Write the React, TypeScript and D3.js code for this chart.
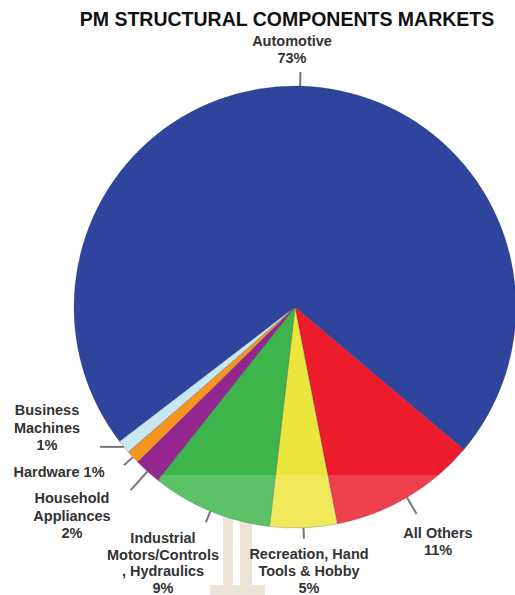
import React from "react";
import * as d3 from "d3";

const categories = [
  "Automotive",
  "All Others",
  "Recreation, Hand Tools & Hobby",
  "Industrial Motors/Controls, Hydraulics",
  "Household Appliances",
  "Hardware",
  "Business Machines",
];
const values = [73, 11, 5, 9, 2, 1, 1];
const colors = ["#2f449c", "#ec1c2d", "#ece53c", "#3db54a", "#93278f", "#f7941e", "#c8e7f1"];
const labelLines = [
  ["Automotive", "73%"],
  ["All Others", "11%"],
  ["Recreation, Hand", "Tools & Hobby", "5%"],
  ["Industrial", "Motors/Controls", ", Hydraulics", "9%"],
  ["Household", "Appliances", "2%"],
  ["Hardware 1%"],
  ["Business", "Machines", "1%"],
];

// layout
const W = 515, H = 595;
const cx = 295, cy = 307, R = 221;
const startDeg = -127.5;
const labelPos = [
  { x: 292, y: 46 },
  { x: 438, y: 538 },
  { x: 309, y: 559 },
  { x: 163, y: 543 },
  { x: 72, y: 503 },
  { x: 59, y: 477 },
  { x: 47, y: 415 },
];
const lineHeights = [17, 17, 16.8, 16.5, 17.5, 17, 17.5];
const leaderLen = [14, 19, 11, 12, 25, 12, 24];

export default function App() {
  const pie = d3
    .pie<number>()
    .sort(null)
    .value((d) => d)
    .startAngle((startDeg * Math.PI) / 180)
    .endAngle((startDeg * Math.PI) / 180 + 2 * Math.PI);
  const arcs = pie(values);
  const arc = d3.arc<d3.PieArcDatum<number>>().innerRadius(0).outerRadius(R);

  const leaders = arcs.map((a, i) => {
    const m = (a.startAngle + a.endAngle) / 2;
    const x0 = Math.sin(m) * R;
    const y0 = -Math.cos(m) * R;
    let x1, y1;
    if (i === 6) {
      x1 = x0 - leaderLen[i];
      y1 = y0;
    } else {
      x1 = Math.sin(m) * (R + leaderLen[i]);
      y1 = -Math.cos(m) * (R + leaderLen[i]);
    }
    return { x0: x0 + cx, y0: y0 + cy, x1: x1 + cx, y1: y1 + cy };
  });

  return (
    <svg width={W} height={H} style={{ position: "absolute", left: 0, top: 0, background: "#fff" }}>
      <text
        x={287}
        y={26}
        textAnchor="middle"
        fontFamily="Liberation Sans, Arial, sans-serif"
        fontWeight="bold"
        fontSize={19.5}
        fill="#111"
      >
        PM STRUCTURAL COMPONENTS MARKETS
      </text>
      {/* watermark */}
      <g fill="#e6dccb" opacity={0.9}>
        <rect x={223} y={470} width={10} height={125} />
        <rect x={240} y={470} width={12} height={125} />
        <rect x={210} y={585} width={55} height={10} />
      </g>
      <g transform={`translate(${cx},${cy})`}>
        {arcs.map((a, i) => (
          <path key={i} d={arc(a) || ""} fill={colors[i]} stroke="#1b2a5a" strokeOpacity={0.35} strokeWidth={0.7} />
        ))}
      </g>
      <rect x={160} y={475} width={310} height={120} fill="#ffffff" opacity={0.16} />
      {leaders.map((l, i) => (
        <line key={i} x1={l.x0} y1={l.y0} x2={l.x1} y2={l.y1} stroke="#777" strokeWidth={2} />
      ))}
      {labelLines.map((lines, i) => (
        <text
          key={i}
          x={labelPos[i].x}
          y={labelPos[i].y}
          textAnchor="middle"
          fontFamily="Liberation Sans, Arial, sans-serif"
          fontWeight="bold"
          fontSize={14.5}
          fill="#333"
        >
          {lines.map((t, j) => (
            <tspan key={j} x={labelPos[i].x} dy={j === 0 ? 0 : lineHeights[i]}>
              {t}
            </tspan>
          ))}
        </text>
      ))}
    </svg>
  );
}
